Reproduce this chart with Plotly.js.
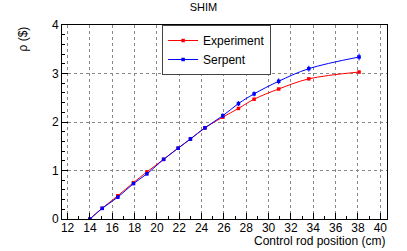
<!DOCTYPE html>
<html>
<head>
<meta charset="utf-8">
<script src="https://cdn.plot.ly/plotly-3.0.1.min.js"></script>
<style>html,body{margin:0;padding:0;background:#fff;}#chart{width:407px;height:251px;}</style>
</head>
<body>
<div id="chart"></div>
<script>
// Data
var positions = [14.0, 15.1, 16.5, 17.9, 19.1, 20.6, 21.9, 23.0, 24.3, 25.9, 27.3, 28.7, 30.9, 33.6, 38.1];
var experiment = [0.0, 0.22, 0.48, 0.75, 0.97, 1.23, 1.46, 1.65, 1.88, 2.10, 2.28, 2.47, 2.68, 2.89, 3.03];
var experimentErr = [0.005, 0.005, 0.005, 0.005, 0.005, 0.005, 0.005, 0.005, 0.005, 0.005, 0.005, 0.005, 0.005, 0.005, 0.01];
var serpent = [0.0, 0.22, 0.45, 0.73, 0.93, 1.23, 1.46, 1.65, 1.88, 2.13, 2.38, 2.58, 2.84, 3.10, 3.34];
var serpentErr = [0.02, 0.02, 0.03, 0.03, 0.03, 0.03, 0.03, 0.04, 0.04, 0.05, 0.05, 0.05, 0.06, 0.06, 0.07];
var xTicks = [12, 14, 16, 18, 20, 22, 24, 26, 28, 30, 32, 34, 36, 38, 40];
var yTicks = [0, 1, 2, 3, 4];

var FONT = 'Liberation Sans, Arial, Helvetica, sans-serif';

var traces = [
  {
    x: positions, y: experiment, name: 'Experiment', type: 'scatter', mode: 'lines+markers',
    line: {color: '#ff0000', width: 1, shape: 'spline', smoothing: 1},
    marker: {color: '#ff0000', symbol: 'square', size: 3.5},
    error_y: {type: 'data', array: experimentErr, visible: true, color: '#ff0000', thickness: 1, width: 0}
  },
  {
    x: positions, y: serpent, name: 'Serpent', type: 'scatter', mode: 'lines+markers',
    line: {color: '#0000ff', width: 1, shape: 'spline', smoothing: 1},
    marker: {color: '#0000ff', symbol: 'square', size: 3.5},
    error_y: {type: 'data', array: serpentErr, visible: true, color: '#0000ff', thickness: 1, width: 0}
  }
];

var axisCommon = {
  showline: true, linecolor: '#000', linewidth: 1, mirror: true,
  ticks: 'inside', ticklen: 6, tickcolor: '#000', tickwidth: 1,
  showgrid: true, gridcolor: '#888', griddash: 'dot', gridwidth: 1,
  zeroline: false,
  tickfont: {family: FONT, size: 12, color: '#000'}
};

var layout = {
  width: 407, height: 251,
  margin: {l: 62, r: 20, t: 25, b: 32},
  paper_bgcolor: '#fff', plot_bgcolor: '#fff',
  font: {family: FONT, size: 12, color: '#000'},
  title: {text: 'SHIM', font: {family: FONT, size: 11, color: '#000'}, x: 0.5, xanchor: 'center', y: 0.97, yanchor: 'middle'},
  showlegend: true,
  legend: {
    x: 0.308, xanchor: 'left', y: 1, yanchor: 'top',
    bgcolor: '#fff', bordercolor: '#444', borderwidth: 1,
    font: {family: FONT, size: 12, color: '#000'},
    itemwidth: 30, tracegroupgap: 0
  },
  xaxis: Object.assign({}, axisCommon, {
    range: [11.5, 40.6], tickmode: 'array', tickvals: xTicks, ticktext: xTicks.map(String),
    ticklabelstandoff: -2,
    minor: {dtick: 1, ticks: 'inside', ticklen: 3, tickcolor: '#000', showgrid: false}
  }),
  yaxis: Object.assign({}, axisCommon, {
    range: [0, 4], tickmode: 'array', tickvals: yTicks, ticktext: yTicks.map(String),
    minor: {dtick: 0.2, ticks: 'inside', ticklen: 3, tickcolor: '#000', showgrid: false}
  }),
  annotations: [
    {text: 'Control rod position (cm)', xref: 'paper', yref: 'paper', x: 1, xanchor: 'right',
     y: 0, yshift: -13, yanchor: 'top', showarrow: false, font: {family: FONT, size: 12, color: '#000'}},
    {text: 'ρ ($)', xref: 'paper', yref: 'paper', x: 0, xshift: -40, xanchor: 'center',
     y: 1, yanchor: 'top', textangle: -90, showarrow: false, font: {family: FONT, size: 12, color: '#000'}}
  ]
};

Plotly.newPlot('chart', traces, layout, {displayModeBar: false, staticPlot: true});
</script>
</body>
</html>
